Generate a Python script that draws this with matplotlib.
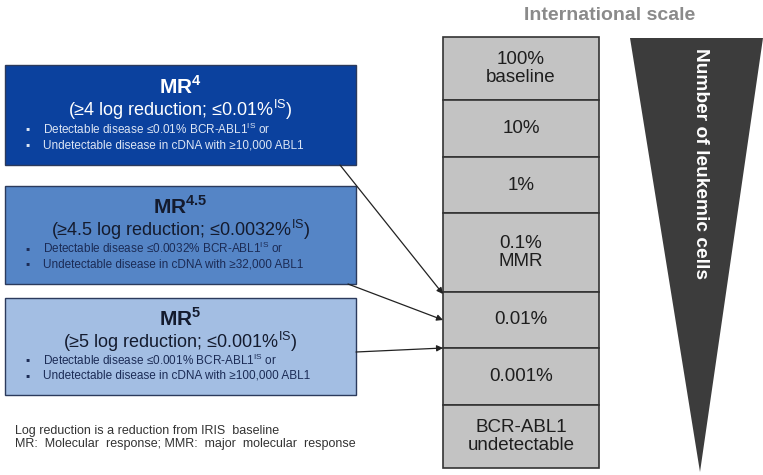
import matplotlib
matplotlib.use("Agg")
import matplotlib.pyplot as plt
from matplotlib.patches import Rectangle, Polygon

plt.rcParams['font.family'] = ['Liberation Sans', 'DejaVu Sans']
plt.rcParams['mathtext.fontset'] = 'custom'
plt.rcParams['mathtext.rm'] = 'Liberation Sans'
plt.rcParams['mathtext.bf'] = 'Liberation Sans:bold'

# response level boxes
titles = [r'$\mathbf{MR}^{\mathbf{4}}$', r'$\mathbf{MR}^{\mathbf{4.5}}$', r'$\mathbf{MR}^{\mathbf{5}}$']
subtitles = [r'(≥4 log reduction; ≤0.01$\%^{\mathrm{IS}}$)',
             r'(≥4.5 log reduction; ≤0.0032$\%^{\mathrm{IS}}$)',
             r'(≥5 log reduction; ≤0.001$\%^{\mathrm{IS}}$)']
bullets = [[r'Detectable disease ≤0.01% BCR-ABL1$^{\mathrm{IS}}$ or',
            'Undetectable disease in cDNA with ≥10,000 ABL1'],
           [r'Detectable disease ≤0.0032% BCR-ABL1$^{\mathrm{IS}}$ or',
            'Undetectable disease in cDNA with ≥32,000 ABL1'],
           [r'Detectable disease ≤0.001% BCR-ABL1$^{\mathrm{IS}}$ or',
            'Undetectable disease in cDNA with ≥100,000 ABL1']]
box_colors = ['#0B419E', '#5585C6', '#A3BEE3']
text_colors = ['white', '#141B2E', '#141B2E']
bullet_colors = ['#DDE6F5', '#1B2B55', '#1B2B55']

# international scale rows
scale_labels = ['100%\nbaseline', '10%', '1%', '0.1%\nMMR', '0.01%', '0.001%',
                'BCR-ABL1\nundetectable']
row_edges = [37, 100, 157, 213, 292, 348, 405, 468]

fig = plt.figure(figsize=(7.63, 4.75), dpi=100)
ax = fig.add_axes([0, 0, 1, 1])
ax.set_xlim(0, 763)
ax.set_ylim(475, 0)
ax.axis('off')

# left boxes
box_y = [(65, 165), (186, 284), (298, 395)]
box_x = (5, 356)
for i in range(3):
    y0, y1 = box_y[i]
    ax.add_patch(Rectangle((box_x[0], y0), box_x[1] - box_x[0], y1 - y0,
                           facecolor=box_colors[i], edgecolor='#2B3A5C', lw=1))
    cx = (box_x[0] + box_x[1]) / 2
    h = y1 - y0
    ax.text(cx, y0 + h * 0.21, titles[i], ha='center', va='center',
            fontsize=15, color=text_colors[i])
    ax.text(cx, y0 + h * 0.45, subtitles[i], ha='center', va='center',
            fontsize=13, color=text_colors[i])
    for j, b in enumerate(bullets[i]):
        yy = y0 + h * (0.64 + 0.16 * j)
        ax.text(25, yy, '▪', ha='left', va='center', fontsize=8.5,
                color=bullet_colors[i])
        ax.text(43, yy, b, ha='left', va='center', fontsize=8.5,
                color=bullet_colors[i])

# scale column
for k, lab in enumerate(scale_labels):
    y0, y1 = row_edges[k], row_edges[k + 1]
    ax.add_patch(Rectangle((443, y0), 156, y1 - y0, facecolor='#C3C3C3',
                           edgecolor='#333333', lw=1.2))
    ax.text(521, (y0 + y1) / 2, lab, ha='center', va='center', fontsize=13.5,
            color='#1E1E1E', linespacing=1.15)

ax.text(610, 15, 'International scale', ha='center', va='center',
        fontsize=14, fontweight='bold', color='#8A8A8A')

# leukemic cells wedge
ax.add_patch(Polygon([(630, 38), (763, 38), (700, 472)], closed=True,
                     facecolor='#3C3C3C', edgecolor='none'))
ax.text(700, 48, 'Number of leukemic cells', ha='center', va='top',
        rotation=-90, fontsize=13.8, fontweight='bold', color='white')

# arrows from boxes to scale
arrow_from = [(340, 165), (348, 284), (356, 352)]
arrow_to = [(443, 294), (443, 320), (443, 348)]
for s, t in zip(arrow_from, arrow_to):
    ax.annotate('', xy=t, xytext=s,
                arrowprops=dict(arrowstyle='-|>', color='#222222', lw=0.9,
                                mutation_scale=9, shrinkA=0, shrinkB=0))

ax.text(15, 431, 'Log reduction is a reduction from IRIS  baseline',
        ha='left', va='center', fontsize=9, color='#333333')
ax.text(15, 444, 'MR:  Molecular  response; MMR:  major  molecular  response',
        ha='left', va='center', fontsize=9, color='#333333')

fig.savefig('out.png', dpi=100)
